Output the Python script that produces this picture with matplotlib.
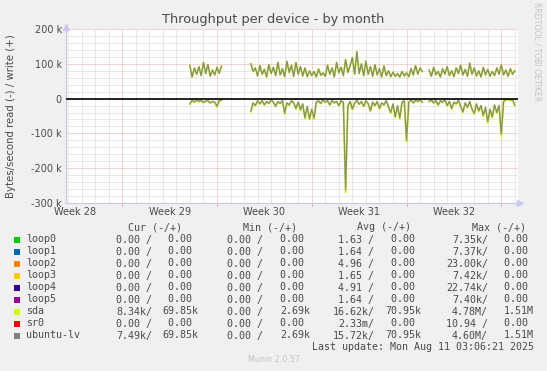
import matplotlib
matplotlib.use("Agg")
import matplotlib.pyplot as plt
from matplotlib.patches import Rectangle
import numpy as np

# ---------------- data ----------------
# samples every 4 h (1/6 day) starting at day 5.0 of week 29 (day 0 = start of week 29)
start_day = 5.0
step_day = 1.0 / 6.0
N = None
# write (+) throughput in kB/s, identical for sda and ubuntu-lv
write_k = [95, 62, 88, 70, 92, 66, 104, 72, 98, 64, 82, 68, 90, 73, 93,
           N, N, N, N, N, N, N, N, N, N, N, N,
           100, 78, 88, 65, 95, 70, 84, 62, 98, 72, 90, 66, 104, 68, 86, 63,
           107, 75, 96, 64, 104, 70, 92, 65, 88, 63, 80, 66, 78, 62, 85, 67,
           74, 64, 96, 70, 88, 62, 104, 74, 90, 66, 112, 75, 95, 118, 70, 135,
           72, 100, 66, 108, 70, 92, 64, 98, 68, 86, 62, 94, 66, 80, 63, 76,
           64, 72, 62, 78, 65, 74, 63, 86, 68, 95, 70, 88, 78,
           N, N,
           82, 64, 90, 68, 78, 62, 86, 70, 92, 66, 80, 63, 88, 72, 96, 68,
           84, 64, 102, 70, 88, 65, 80, 62, 90, 68, 84, 64, 78, 66, 88, 70,
           97, 68, 82, 64, 86, 70, 80]
# read (-) throughput in kB/s (plotted negative)
lv_read_k = [-15, -5, -10, -3, -8, -5, -11, -7, -6, -12, -8, -10, -22, -6, -4,
             N, N, N, N, N, N, N, N, N, N, N, N,
             -36, -12, -20, -6, -15, -5, -18, -8, -14, -4, -10, -22, -8, -14, -5, -42,
             -12, -18, -6, -12, -28, -10, -32, -15, -55, -22, -58, -30, -56, -10, -6, -14,
             -4, -10, -6, -18, -5, -12, -8, -20, -6, -10, -262, -20, -8, -30, -12, -5,
             -16, -8, -22, -6, -14, -35, -10, -20, -8, -28, -12, -18, -5, -24, -40, -15,
             -52, -20, -56, -10, -6, -120, -10, -4, -12, -5, -8, -3, -10,
             N, N,
             -8, -4, -12, -5, -18, -6, -10, -4, -20, -8, -28, -10, -15, -5, -22, -38,
             -12, -25, -8, -30, -42, -15, -35, -20, -48, -25, -66, -30, -52, -18, -40, -20,
             -102, -8, -3, -2, -4, -3, -19]
sda_read_k = [-16, -6, -11, -4, -9, -6, -12, -8, -7, -13, -9, -11, -24, -7, -5,
              N, N, N, N, N, N, N, N, N, N, N, N,
              -38, -13, -21, -7, -16, -6, -19, -9, -15, -5, -11, -23, -9, -15, -6, -44,
              -13, -19, -7, -13, -30, -11, -34, -16, -58, -23, -61, -32, -59, -11, -7, -15,
              -5, -11, -7, -19, -6, -13, -9, -21, -7, -11, -270, -21, -9, -32, -13, -6,
              -17, -9, -23, -7, -15, -37, -11, -21, -9, -30, -13, -19, -6, -25, -42, -16,
              -55, -21, -59, -11, -7, -124, -11, -5, -13, -6, -9, -4, -11,
              N, N,
              -9, -5, -13, -6, -19, -7, -11, -5, -21, -9, -30, -11, -16, -6, -23, -40,
              -13, -26, -9, -32, -45, -16, -37, -21, -51, -26, -70, -32, -55, -19, -42, -21,
              -108, -9, -4, -3, -5, -4, -20]

y_ticks = [200, 100, 0, -100, -200, -300]
y_tick_labels = ["200 k", "100 k", "0", "-100 k", "-200 k", "-300 k"]
week_labels = ["Week 28", "Week 29", "Week 30", "Week 31", "Week 32"]
week_starts = [-7, 0, 7, 14, 21, 28]

names = ["loop0", "loop1", "loop2", "loop3", "loop4", "loop5", "sda", "sr0", "ubuntu-lv"]
colors = ["#00CC00", "#0066B3", "#FF8000", "#FFCC00", "#330099", "#990099", "#CCFF00", "#FF0000", "#808080"]
cur_r = ["0.00 /", "0.00 /", "0.00 /", "0.00 /", "0.00 /", "0.00 /", "8.34k/", "0.00 /", "7.49k/"]
cur_w = ["0.00 ", "0.00 ", "0.00 ", "0.00 ", "0.00 ", "0.00 ", "69.85k", "0.00 ", "69.85k"]
min_r = ["0.00 /"] * 9
min_w = ["0.00 ", "0.00 ", "0.00 ", "0.00 ", "0.00 ", "0.00 ", "2.69k", "0.00 ", "2.69k"]
avg_r = ["1.63 /", "1.64 /", "4.96 /", "1.65 /", "4.91 /", "1.64 /", "16.62k/", "2.33m/", "15.72k/"]
avg_w = ["0.00 ", "0.00 ", "0.00 ", "0.00 ", "0.00 ", "0.00 ", "70.95k", "0.00 ", "70.95k"]
max_r = ["7.35k/", "7.37k/", "23.00k/", "7.42k/", "22.74k/", "7.40k/", "4.78M/", "10.94 /", "4.60M/"]
max_w = ["0.00 ", "0.00 ", "0.00 ", "0.00 ", "0.00 ", "0.00 ", "1.51M", "0.00 ", "1.51M"]

# ---------------- figure ----------------
W, H = 547, 371
fig = plt.figure(figsize=(W / 100, H / 100), dpi=100)
fig.patch.set_facecolor("#F0F0F0")

def fx(px):
    return px / W

def fy(py):
    return 1 - py / H

L, R, T, B = 66, 517.7, 29, 203
ax = fig.add_axes([fx(L), fy(B), fx(R) - fx(L), fy(T) - fy(B)])
ax.set_facecolor("white")
x0, x1 = -4.15, 29.21
ax.set_xlim(x0, x1)
ax.set_ylim(-300, 200)

TXT = "#4a4a4a"
minor_c = "#D4D4D4"
major_c = "#EEA8A8"
dots = (0, (1, 1))
gkw = dict(lw=0.72, ls=dots, zorder=1)
# grid
for d in range(-4, 30):
    if d % 7 != 0:
        ax.axvline(d, color=minor_c, **gkw)
for v in range(-300, 201, 20):
    if v % 100 != 0:
        ax.axhline(v, color=minor_c, **gkw)
for d in week_starts:
    if x0 < d < x1:
        ax.axvline(d, color=major_c, **gkw)
        ax.plot([d, d], [0, -0.018], transform=ax.get_xaxis_transform(),
                color=major_c, lw=0.72, clip_on=False, zorder=1)
for v in y_ticks:
    ax.axhline(v, color=major_c, **gkw)

days = start_day + step_day * np.arange(len(write_k))
wk = np.array([np.nan if v is None else v for v in write_k], dtype=float)
lr = np.array([np.nan if v is None else v for v in lv_read_k], dtype=float)
sr = np.array([np.nan if v is None else v for v in sda_read_k], dtype=float)

# sda then ubuntu-lv on top
ax.plot(days, wk, color="#CCFF00", lw=1.35, zorder=3)
ax.plot(days, sr, color="#CCFF00", lw=1.35, zorder=3)
ax.plot(days, wk, color="#808080", lw=0.95, alpha=0.9, zorder=4)
ax.plot(days, lr, color="#808080", lw=0.95, alpha=0.9, zorder=4)
ax.axhline(0, color="black", lw=1.2, zorder=5)

# axes styling
for s in ["top", "right"]:
    ax.spines[s].set_visible(False)
for s in ["left", "bottom"]:
    ax.spines[s].set_color("#C8C8F0")
    ax.spines[s].set_linewidth(0.9)
ax.plot(1.006, 0, marker=">", ms=5, color="#C8C8F0", transform=ax.transAxes, clip_on=False)
ax.plot(0, 1.012, marker="^", ms=5, color="#C8C8F0", transform=ax.transAxes, clip_on=False)

ax.set_yticks(y_ticks)
ax.set_yticklabels(y_tick_labels)
ax.set_xticks([ws + 3.5 for ws in week_starts[:5]])
ax.set_xticklabels(week_labels)
ax.tick_params(axis="both", length=0, labelsize=7, colors=TXT, pad=3)

# texts
fig.text(fx(273.5), fy(19.5), "Throughput per device - by month", ha="center", va="center",
         fontsize=9.3, color=TXT)
fig.text(fx(11), fy(116), "Bytes/second read (-) / write (+)", rotation=90, ha="center",
         va="center", fontsize=7.3, color=TXT)
fig.text(fx(537), fy(52), "RRDTOOL / TOBI OETIKER", rotation=270, ha="center", va="center",
         fontsize=5.6, color="#C4C4C4")
fig.text(fx(273.5), fy(360), "Munin 2.0.57", ha="center", va="center", fontsize=5.8, color="#C4C4C4")

mono = dict(family="DejaVu Sans Mono", fontsize=7.2, color=TXT, va="center")
hy = 227.5
fig.text(fx(182), fy(hy), "Cur (-/+)", ha="right", **mono)
fig.text(fx(296.6), fy(hy), "Min (-/+)", ha="right", **mono)
fig.text(fx(411), fy(hy), "Avg (-/+)", ha="right", **mono)
fig.text(fx(526.2), fy(hy), "Max (-/+)", ha="right", **mono)
for k, nm in enumerate(names):
    yy = 239.5 + 12 * k
    fig.add_artist(Rectangle((fx(13.8), fy(yy + 3)), 6 / W, 6 / H, transform=fig.transFigure,
                             facecolor=colors[k], edgecolor="none"))
    fig.text(fx(26), fy(yy), nm, ha="left", **mono)
    fig.text(fx(152), fy(yy), cur_r[k], ha="right", **mono)
    fig.text(fx(198.5), fy(yy), cur_w[k], ha="right", **mono)
    fig.text(fx(263), fy(yy), min_r[k], ha="right", **mono)
    fig.text(fx(310), fy(yy), min_w[k], ha="right", **mono)
    fig.text(fx(374.5), fy(yy), avg_r[k], ha="right", **mono)
    fig.text(fx(421), fy(yy), avg_w[k], ha="right", **mono)
    fig.text(fx(488), fy(yy), max_r[k], ha="right", **mono)
    fig.text(fx(533.5), fy(yy), max_w[k], ha="right", **mono)
fig.text(fx(533.5), fy(347.5), "Last update: Mon Aug 11 03:06:21 2025", ha="right", **mono)

fig.savefig("out.png", dpi=100, facecolor=fig.get_facecolor())
